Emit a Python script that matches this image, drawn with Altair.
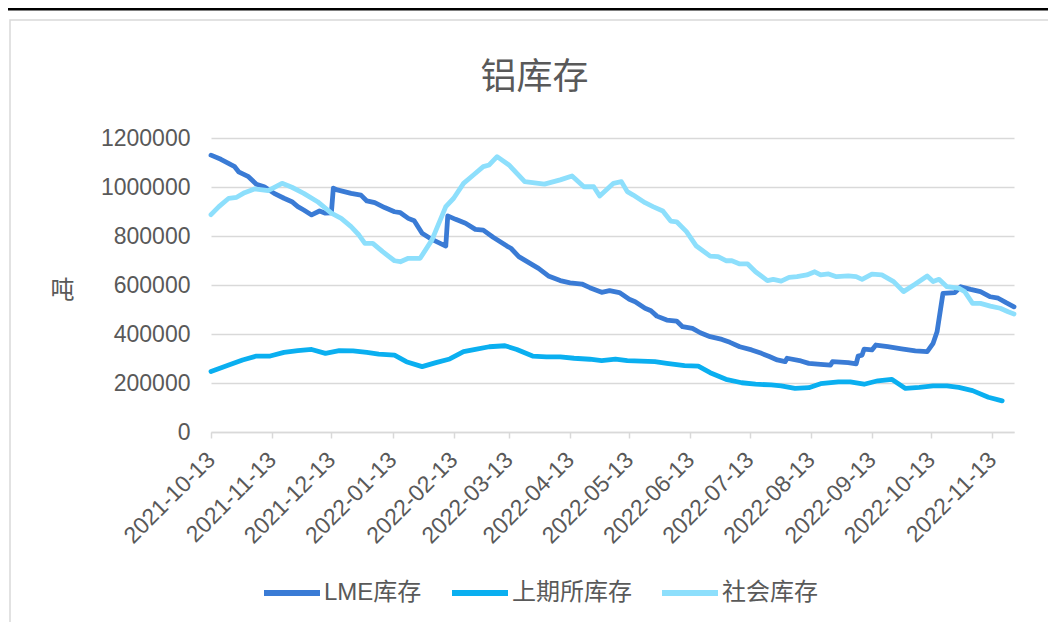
import altair as alt
import pandas as pd

series_names = ["LME库存", "上期所库存", "社会库存"]
series_colors = ["#3A7BD5", "#0AAFF0", "#8DDFFC"]

lme_dates = [
    "2021-10-13", "2021-10-18", "2021-10-25", "2021-10-27", "2021-11-01", "2021-11-05",
    "2021-11-09", "2021-11-14", "2021-11-19", "2021-11-23", "2021-11-26", "2021-11-29",
    "2021-12-03", "2021-12-07", "2021-12-10", "2021-12-13", "2021-12-14", "2021-12-16",
    "2021-12-23", "2021-12-28", "2021-12-31", "2022-01-04", "2022-01-09", "2022-01-14",
    "2022-01-17", "2022-01-21", "2022-01-24", "2022-01-28", "2022-02-02", "2022-02-09",
    "2022-02-10", "2022-02-14", "2022-02-19", "2022-02-24", "2022-02-28", "2022-03-05",
    "2022-03-12", "2022-03-14", "2022-03-18", "2022-03-25", "2022-03-28", "2022-04-02",
    "2022-04-08", "2022-04-13", "2022-04-19", "2022-04-23", "2022-04-29", "2022-05-03",
    "2022-05-08", "2022-05-13", "2022-05-16", "2022-05-21", "2022-05-24", "2022-05-27",
    "2022-06-01", "2022-06-06", "2022-06-09", "2022-06-14", "2022-06-18", "2022-06-23",
    "2022-06-29", "2022-07-03", "2022-07-08", "2022-07-14", "2022-07-19", "2022-07-23",
    "2022-07-27", "2022-07-31", "2022-08-01", "2022-08-08", "2022-08-12", "2022-08-18",
    "2022-08-23", "2022-08-24", "2022-09-01", "2022-09-05", "2022-09-06", "2022-09-08",
    "2022-09-09", "2022-09-13", "2022-09-15", "2022-09-21", "2022-09-28", "2022-10-05",
    "2022-10-11", "2022-10-14", "2022-10-16", "2022-10-19", "2022-10-25", "2022-10-28",
    "2022-11-02", "2022-11-07", "2022-11-12", "2022-11-16", "2022-11-20", "2022-11-24",
]
lme_values = [
    1130000, 1113000, 1083000, 1062000, 1042000, 1011000,
    1001000, 974000, 954000, 940000, 920000, 906000,
    886000, 902000, 893000, 894000, 995000, 988000,
    974000, 967000, 943000, 936000, 916000, 899000,
    895000, 872000, 862000, 811000, 786000, 759000,
    882000, 868000, 852000, 827000, 824000, 795000,
    759000, 750000, 716000, 682000, 668000, 637000,
    618000, 609000, 604000, 589000, 570000, 577000,
    569000, 542000, 532000, 505000, 495000, 473000,
    457000, 453000, 430000, 423000, 405000, 389000,
    378000, 366000, 348000, 335000, 321000, 308000,
    294000, 287000, 301000, 290000, 280000, 276000,
    273000, 287000, 283000, 278000, 310000, 314000,
    338000, 335000, 355000, 348000, 339000, 331000,
    328000, 362000, 409000, 566000, 569000, 593000,
    582000, 573000, 552000, 546000, 528000, 511000,
]

shfe_dates = [
    "2021-10-13", "2021-10-22", "2021-10-29", "2021-11-05", "2021-11-12", "2021-11-19",
    "2021-11-26", "2021-12-03", "2021-12-10", "2021-12-17", "2021-12-24", "2021-12-31",
    "2022-01-06", "2022-01-14", "2022-01-20", "2022-01-28", "2022-02-04", "2022-02-11",
    "2022-02-18", "2022-02-24", "2022-03-03", "2022-03-11", "2022-03-17", "2022-03-25",
    "2022-04-01", "2022-04-08", "2022-04-15", "2022-04-23", "2022-04-29", "2022-05-06",
    "2022-05-12", "2022-05-26", "2022-06-01", "2022-06-10", "2022-06-17", "2022-06-23",
    "2022-07-01", "2022-07-09", "2022-07-16", "2022-07-24", "2022-07-29", "2022-08-05",
    "2022-08-12", "2022-08-18", "2022-08-27", "2022-09-02", "2022-09-09", "2022-09-16",
    "2022-09-23", "2022-09-30", "2022-10-07", "2022-10-14", "2022-10-21", "2022-10-27",
    "2022-11-03", "2022-11-11", "2022-11-18",
]
shfe_values = [
    247000, 273000, 294000, 310000, 310000, 325000,
    332000, 337000, 321000, 332000, 331000, 325000,
    318000, 314000, 287000, 267000, 283000, 298000,
    328000, 337000, 348000, 352000, 337000, 310000,
    307000, 307000, 301000, 297000, 291000, 297000,
    291000, 287000, 280000, 271000, 269000, 242000,
    215000, 201000, 195000, 192000, 188000, 178000,
    181000, 197000, 205000, 205000, 195000, 209000,
    215000, 178000, 182000, 188000, 188000, 182000,
    169000, 142000, 127000,
]

social_dates = [
    "2021-10-13", "2021-10-17", "2021-10-22", "2021-10-26", "2021-10-30", "2021-11-04",
    "2021-11-11", "2021-11-18", "2021-11-23", "2021-11-29", "2021-12-06", "2021-12-13",
    "2021-12-18", "2021-12-23", "2021-12-27", "2021-12-30", "2022-01-03", "2022-01-08",
    "2022-01-14", "2022-01-17", "2022-01-21", "2022-01-27", "2022-02-02", "2022-02-09",
    "2022-02-13", "2022-02-18", "2022-02-23", "2022-02-28", "2022-03-03", "2022-03-07",
    "2022-03-13", "2022-03-21", "2022-03-25", "2022-03-31", "2022-04-08", "2022-04-14",
    "2022-04-20", "2022-04-25", "2022-04-28", "2022-05-05", "2022-05-09", "2022-05-12",
    "2022-05-15", "2022-05-21", "2022-05-25", "2022-05-30", "2022-06-03", "2022-06-06",
    "2022-06-11", "2022-06-16", "2022-06-23", "2022-06-27", "2022-07-01", "2022-07-04",
    "2022-07-08", "2022-07-12", "2022-07-16", "2022-07-22", "2022-07-25", "2022-07-29",
    "2022-08-02", "2022-08-06", "2022-08-11", "2022-08-15", "2022-08-18", "2022-08-22",
    "2022-08-26", "2022-09-01", "2022-09-05", "2022-09-08", "2022-09-13", "2022-09-18",
    "2022-09-24", "2022-09-29", "2022-10-05", "2022-10-11", "2022-10-14", "2022-10-17",
    "2022-10-21", "2022-10-27", "2022-10-30", "2022-11-03", "2022-11-07", "2022-11-12",
    "2022-11-17", "2022-11-21", "2022-11-24",
]
social_values = [
    887000, 920000, 954000, 958000, 977000, 992000,
    985000, 1015000, 999000, 974000, 940000, 893000,
    872000, 838000, 804000, 770000, 770000, 736000,
    699000, 695000, 709000, 709000, 784000, 920000,
    954000, 1015000, 1049000, 1083000, 1090000, 1124000,
    1090000, 1022000, 1018000, 1012000, 1029000, 1045000,
    1001000, 1001000, 963000, 1015000, 1022000, 981000,
    967000, 936000, 920000, 902000, 861000, 858000,
    818000, 759000, 718000, 716000, 699000, 699000,
    686000, 686000, 654000, 618000, 623000, 616000,
    631000, 634000, 641000, 654000, 641000, 645000,
    634000, 637000, 634000, 623000, 644000, 641000,
    614000, 573000, 604000, 637000, 614000, 623000,
    593000, 587000, 573000, 525000, 525000, 514000,
    505000, 491000, 482000,
]

tick_dates = [
    "2021-10-13", "2021-11-13", "2021-12-13", "2022-01-13", "2022-02-13", "2022-03-13",
    "2022-04-13", "2022-05-13", "2022-06-13", "2022-07-13", "2022-08-13", "2022-09-13",
    "2022-10-13", "2022-11-13",
]
x_domain = ["2021-10-13", "2022-11-24"]
y_ticks = [0, 200000, 400000, 600000, 800000, 1000000, 1200000]

LATIN = "Liberation Sans, Arial, Noto Sans CJK SC, sans-serif"
CJK = "Noto Sans CJK SC, Liberation Sans, sans-serif"
TEXT = "#595959"
GRID = "#D9D9D9"


def dt(s):
    y, m, d = (int(p) for p in s.split("-"))
    return alt.DateTime(year=y, month=m, date=d, utc=True)


rows = []
for name, dates, vals in [
    (series_names[0], lme_dates, lme_values),
    (series_names[1], shfe_dates, shfe_values),
    (series_names[2], social_dates, social_values),
]:
    for d, v in zip(dates, vals):
        rows.append({"date": d, "value": v, "series": name})
df = pd.DataFrame(rows)

one = pd.DataFrame({"k": [0]})

frame = alt.Chart(one).mark_rect(fillOpacity=0, stroke=GRID, strokeWidth=1.5).encode(
    x=alt.value(-201), x2=alt.value(845), y=alt.value(-118), y2=alt.value(520)
)
topline = alt.Chart(one).mark_rule(color="#000000", strokeWidth=3).encode(
    x=alt.value(-211), x2=alt.value(845), y=alt.value(-129)
)

lines = alt.Chart(df).mark_line(strokeWidth=4.8, strokeCap="round", strokeJoin="round").encode(
    x=alt.X(
        "date:T",
        scale=alt.Scale(type="utc", domain=[dt(x_domain[0]), dt(x_domain[1])]),
        axis=alt.Axis(
            values=[dt(s) for s in tick_dates],
            labelExpr="utcFormat(datum.value, '%Y-%m-%d')",
            title=None,
            labelAngle=-45,
            labelAlign="right",
            labelBaseline="middle",
            labelPadding=18,
            labelFont=LATIN,
            labelFontSize=23,
            labelColor=TEXT,
            labelOverlap=False,
            labelFlush=False,
            grid=False,
            domainColor=GRID,
            domainWidth=1.5,
            tickColor=GRID,
            tickWidth=1.5,
            tickSize=6,
        ),
    ),
    y=alt.Y(
        "value:Q",
        scale=alt.Scale(domain=[0, 1200000]),
        axis=alt.Axis(
            values=y_ticks,
            format="d",
            title="吨",
            titleAngle=0,
            titleX=-149,
            titleY=152,
            titleAlign="center",
            titleBaseline="middle",
            titleFont=CJK,
            titleFontSize=24,
            titleFontWeight="normal",
            titleColor=TEXT,
            labelFont=LATIN,
            labelFontSize=23,
            labelColor=TEXT,
            labelPadding=21,
            ticks=False,
            domain=False,
            gridColor=GRID,
            gridWidth=1.5,
        ),
    ),
    color=alt.Color(
        "series:N",
        scale=alt.Scale(domain=series_names, range=series_colors),
        legend=alt.Legend(
            title=None,
            orient="none",
            legendX=50,
            legendY=424,
            direction="horizontal",
            columns=3,
            symbolType="stroke",
            symbolSize=3136,
            symbolStrokeWidth=6,
            labelFont=LATIN,
            labelFontSize=24,
            labelColor=TEXT,
            labelOffset=1,
            columnPadding=18,
            padding=0,
        ),
    ),
)

chart = alt.layer(frame, topline, lines).properties(
    width=803,
    height=294,
    autosize=alt.AutoSizeParams(type="none"),
    padding={"left": 203, "top": 130, "right": 34, "bottom": 190},
    title=alt.TitleParams(
        "铝库存",
        font=CJK,
        fontSize=36,
        fontWeight="normal",
        color=TEXT,
        anchor="middle",
        frame="group",
        baseline="alphabetic",
        offset=-117,
        dx=-78,
    ),
).configure_view(strokeWidth=0)

chart.save("out.html", embed_options={"renderer": "svg", "actions": False})
